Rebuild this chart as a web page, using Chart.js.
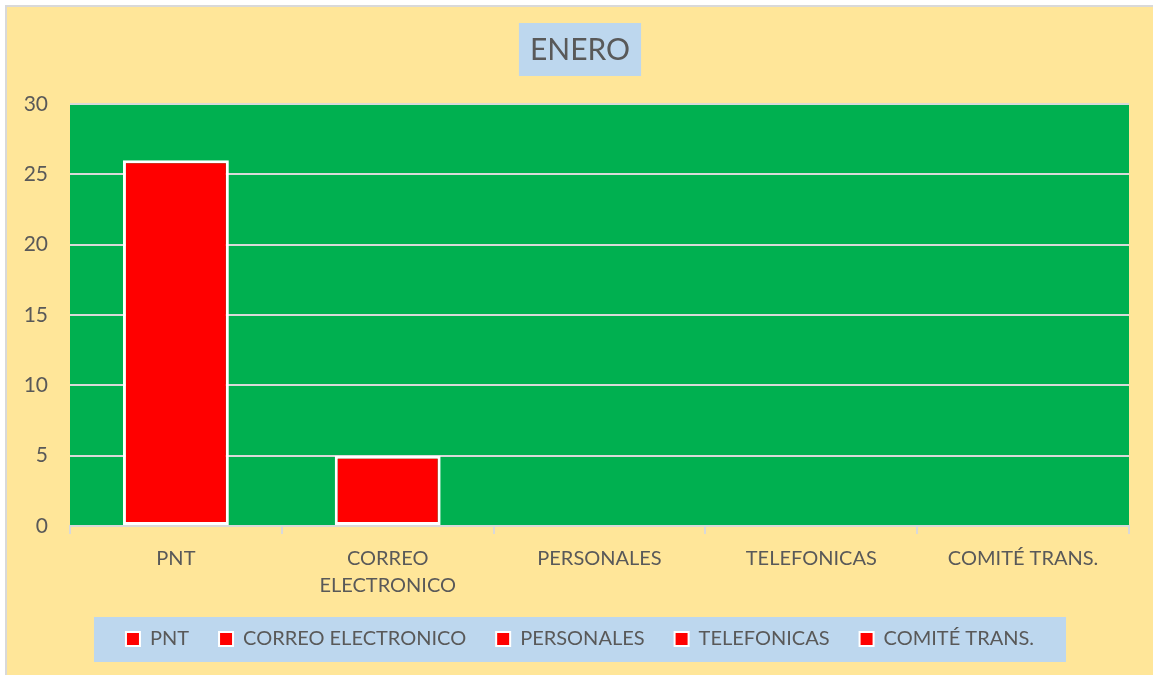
<!DOCTYPE html>
<html>
<head>
<meta charset="utf-8">
<script src="https://cdn.jsdelivr.net/npm/chart.js@4/dist/chart.umd.min.js"></script>
<style>
  body { margin: 0; background: #fff; }
  #frame {
    position: absolute; left: 5px; top: 5px;
    width: 1146px; height: 668px;
    border-left: 2px solid #d9d9d9; border-top: 2px solid #d9d9d9;
    background: #FFE699;
  }
</style>
</head>
<body>
<div id="frame"><canvas id="chart" width="1146" height="668"></canvas></div>
<script>
const categories = ['PNT', 'CORREO ELECTRONICO', 'PERSONALES', 'TELEFONICAS', 'COMITÉ TRANS.'];
const tickLabels = ['PNT', ['CORREO', 'ELECTRONICO'], 'PERSONALES', 'TELEFONICAS', 'COMITÉ TRANS.'];
const values = [26, 5, 0, 0, 0];
const yTicks = [0, 5, 10, 15, 20, 25, 30];

const textColor = '#595959';
const fontFamily = 'Lato, "Open Sans", sans-serif';

// fondo verde del area de grafico + cajas azules de titulo y leyenda
const boxes = {
  id: 'boxes',
  beforeDraw(chart) {
    const c = chart.ctx;
    const a = chart.chartArea;
    c.save();
    c.fillStyle = '#00B050';
    c.fillRect(a.left, a.top, a.right - a.left, a.bottom - a.top);

    // titulo
    const t = chart.titleBlock;
    c.font = '30px ' + fontFamily;
    const tw = c.measureText(chart.options.plugins.title.text).width;
    const cx = (t.left + t.right) / 2;
    const cy = t.top + t.options.padding.top + 18;
    c.fillStyle = '#BDD7EE';
    c.fillRect(cx - tw / 2 - 11, cy - 27, tw + 22, 53);

    // leyenda
    const lg = chart.legend;
    if (lg.legendHitBoxes && lg.legendHitBoxes.length) {
      const hb = lg.legendHitBoxes;
      const l = Math.min(...hb.map(h => h.left));
      const r = Math.max(...hb.map(h => h.left + h.width));
      const my = hb[0].top + hb[0].height / 2;
      c.fillRect(l - 32, my - 22, r - l + 64, 45);
    }
    c.restore();
  }
};

new Chart(document.getElementById('chart'), {
  type: 'bar',
  data: {
    labels: tickLabels,
    datasets: [{
      label: 'ENERO',
      data: values,
      backgroundColor: '#FF0000',
      borderColor: '#FFFFFF',
      borderWidth: 3,
      borderSkipped: false,
      barPercentage: 0.5,
      categoryPercentage: 1.0
    }]
  },
  options: {
    responsive: false,
    devicePixelRatio: 1,
    animation: false,
    layout: { padding: { left: 0, right: 0, top: 0, bottom: 16 } },
    scales: {
      x: {
        grid: {
          display: true, drawOnChartArea: false, drawTicks: true,
          tickLength: 8, offset: true, color: '#D9D9D9', lineWidth: 2
        },
        border: { display: true, color: '#D9D9D9', width: 2 },
        ticks: { color: textColor, font: { family: fontFamily, size: 20, lineHeight: 1.35 }, padding: 11, maxRotation: 0 },
        afterFit: s => { s.height = 73; }
      },
      y: {
        min: 0, max: 30,
        afterBuildTicks: s => { s.ticks = yTicks.map(v => ({ value: v })); },
        grid: { color: '#D9D9D9', lineWidth: 2, drawTicks: false },
        border: { display: false },
        ticks: { color: textColor, font: { family: fontFamily, size: 21 }, padding: 22 },
        afterFit: s => { s.width = 63; }
      },
      y2: {
        position: 'right',
        display: true,
        grid: { display: false },
        border: { display: false },
        ticks: { display: false },
        afterFit: s => { s.width = 24; }
      }
    },
    plugins: {
      title: {
        display: true,
        text: 'ENERO',
        color: textColor,
        font: { family: fontFamily, size: 30, weight: 'normal' },
        padding: { top: 25, bottom: 36 }
      },
      legend: {
        position: 'bottom',
        maxHeight: 60,
        onClick: null,
        labels: {
          color: textColor,
          font: { family: fontFamily, size: 20 },
          boxWidth: 14,
          boxHeight: 14,
          padding: 30,
          generateLabels: () => categories.map((c, i) => ({
            text: c,
            fillStyle: '#FF0000',
            strokeStyle: '#FFFFFF',
            lineWidth: 2,
            fontColor: textColor,
            index: i
          }))
        }
      },
      tooltip: { enabled: false }
    }
  },
  plugins: [boxes]
});
</script>
</body>
</html>
